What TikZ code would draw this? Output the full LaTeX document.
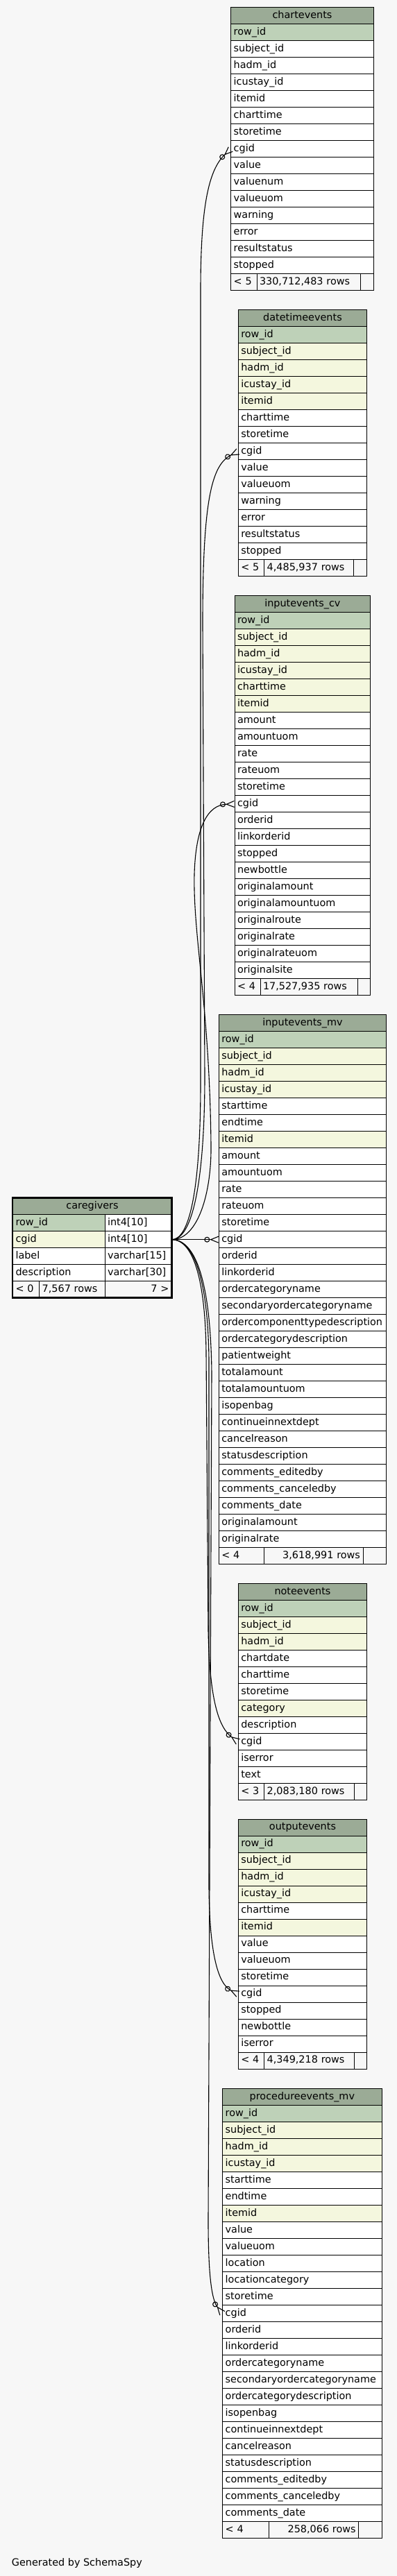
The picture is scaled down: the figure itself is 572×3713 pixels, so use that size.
\documentclass[tikz,border=0pt]{standalone}
\usepackage{fontspec}
\setmainfont{DejaVu Sans}
\usetikzlibrary{arrows.meta}

\definecolor{bgc}{HTML}{F7F7F7}
\definecolor{hdc}{HTML}{9BAB96}
\definecolor{rowp}{HTML}{BED1B8}
\definecolor{rowi}{HTML}{F4F7DE}
\definecolor{rown}{HTML}{FFFFFF}

\begin{document}
\begin{tikzpicture}[x=1pt,y=-1pt,font=\fontsize{14.4}{16}\selectfont]

\tikzstyle{hd} = [draw=black, fill=hdc, anchor=north west, minimum height=24pt, inner sep=0pt, outer sep=0pt, text height=10.5pt, text depth=3.5pt, line width=1pt]
\tikzstyle{cl} = [draw=black, anchor=north west, minimum height=24pt, inner xsep=4pt, inner ysep=0pt, outer sep=0pt, text height=10.5pt, text depth=3.5pt, align=left, line width=1pt]
\tikzstyle{ft} = [cl, fill=bgc]
\tikzstyle{fk} = [line width=1.1pt, -{Circle[open,length=8pt,width=8pt] Straight Barb[reversed,length=11pt,width=9pt]}]

\fill [bgc] (0,0) rectangle (572,3713);

% chartevents
\node (ce) [hd, minimum width=205.6pt] at (332.7,10.7) {chartevents};
\foreach \k/\c [count=\i] in {p/row\_id, n/subject\_id, n/hadm\_id, n/icustay\_id, n/itemid, n/charttime, n/storetime, n/cgid, n/value, n/valuenum, n/valueuom, n/warning, n/error, n/resultstatus, n/stopped}
  \node (ce-\i) [cl, fill=row\k, text width=197.6pt] at (332.7,{10.7+24*\i}) {\c};
\node (ce-f1) [ft, text width=29.3pt] at (332.7,394.7) {< 5};
\node (ce-f2) [ft, text width=141pt] at (370,394.7) {330,712,483 rows};
\node (ce-f3) [ft, text width=11.3pt] at (519,394.7) {};

% datetimeevents
\node (de) [hd, minimum width=185.4pt] at (343.3,446.7) {datetimeevents};
\foreach \k/\c [count=\i] in {p/row\_id, i/subject\_id, i/hadm\_id, i/icustay\_id, i/itemid, n/charttime, n/storetime, n/cgid, n/value, n/valueuom, n/warning, n/error, n/resultstatus, n/stopped}
  \node (de-\i) [cl, fill=row\k, text width=177.4pt] at (343.3,{446.7+24*\i}) {\c};
\node (de-f1) [ft, text width=29.4pt] at (343.3,806.7) {< 5};
\node (de-f2) [ft, text width=120.6pt] at (380.7,806.7) {4,485,937 rows};
\node (de-f3) [ft, text width=11.4pt] at (509.3,806.7) {};

% inputevents_cv
\node (ic) [hd, minimum width=195.7pt] at (338,858.9) {inputevents\_cv};
\foreach \k/\c [count=\i] in {p/row\_id, i/subject\_id, i/hadm\_id, i/icustay\_id, i/charttime, i/itemid, n/amount, n/amountuom, n/rate, n/rateuom, n/storetime, n/cgid, n/orderid, n/linkorderid, n/stopped, n/newbottle, n/originalamount, n/originalamountuom, n/originalroute, n/originalrate, n/originalrateuom, n/originalsite}
  \node (ic-\i) [cl, fill=row\k, text width=187.7pt] at (338,{858.9+24*\i}) {\c};
\node (ic-f1) [ft, text width=29pt] at (338,1410.9) {< 4};
\node (ic-f2) [ft, text width=132pt] at (375,1410.9) {17,527,935 rows};
\node (ic-f3) [ft, text width=10.7pt] at (515,1410.9) {};

% inputevents_mv
\node (im) [hd, minimum width=241.4pt] at (315.3,1462.7) {inputevents\_mv};
\foreach \k/\c [count=\i] in {p/row\_id, i/subject\_id, i/hadm\_id, i/icustay\_id, n/starttime, n/endtime, i/itemid, n/amount, n/amountuom, n/rate, n/rateuom, n/storetime, n/cgid, n/orderid, n/linkorderid, n/ordercategoryname, n/secondaryordercategoryname, n/ordercomponenttypedescription, n/ordercategorydescription, n/patientweight, n/totalamount, n/totalamountuom, n/isopenbag, n/continueinnextdept, n/cancelreason, n/statusdescription, n/comments\_editedby, n/comments\_canceledby, n/comments\_date, n/originalamount, n/originalrate}
  \node (im-\i) [cl, fill=row\k, text width=233.4pt] at (315.3,{1462.7+24*\i}) {\c};
\node (im-f1) [ft, text width=57.4pt] at (315.3,2230.7) {< 4};
\node (im-f2) [ft, text width=134.3pt, align=right] at (380.7,2230.7) {3,618,991 rows};
\node (im-f3) [ft, text width=25.7pt] at (523,2230.7) {};

% caregivers
\node (cg) [hd, minimum width=229pt] at (18.5,1726.7) {caregivers};
\foreach \k/\c/\t [count=\i] in {p/row\_id/int4[10], i/cgid/int4[10], n/label/varchar[15], n/description/varchar[30]} {
  \node (cg-\i) [cl, fill=row\k, text width=124.5pt] at (18.5,{1726.7+24*\i}) {\c};
  \node (cg-\i-t) [cl, fill=white, text width=88.5pt] at (151,{1726.7+24*\i}) {\t};
}
\node (cg-f1) [ft, text width=30.2pt] at (18.5,1846.7) {< 0};
\node (cg-f2) [ft, text width=86.3pt] at (56.7,1846.7) {7,567 rows};
\node (cg-f3) [ft, text width=88.5pt, align=right] at (151,1846.7) {7 >};
\draw [line width=2.7pt] (18,1726.2) rectangle (247.4,1870.6);

% noteevents
\node (ne) [hd, minimum width=185.4pt] at (343.3,2282.7) {noteevents};
\foreach \k/\c [count=\i] in {p/row\_id, i/subject\_id, i/hadm\_id, n/chartdate, n/charttime, n/storetime, i/category, n/description, n/cgid, n/iserror, n/text}
  \node (ne-\i) [cl, fill=row\k, text width=177.4pt] at (343.3,{2282.7+24*\i}) {\c};
\node (ne-f1) [ft, text width=29.4pt] at (343.3,2570.7) {< 3};
\node (ne-f2) [ft, text width=121.3pt] at (380.7,2570.7) {2,083,180 rows};
\node (ne-f3) [ft, text width=10.7pt] at (510,2570.7) {};

% outputevents
\node (oe) [hd, minimum width=185.4pt] at (343.3,2622.3) {outputevents};
\foreach \k/\c [count=\i] in {p/row\_id, i/subject\_id, i/hadm\_id, i/icustay\_id, n/charttime, i/itemid, n/value, n/valueuom, n/storetime, n/cgid, n/stopped, n/newbottle, n/iserror}
  \node (oe-\i) [cl, fill=row\k, text width=177.4pt] at (343.3,{2622.3+24*\i}) {\c};
\node (oe-f1) [ft, text width=29.4pt] at (343.3,2958.3) {< 4};
\node (oe-f2) [ft, text width=121.3pt] at (380.7,2958.3) {4,349,218 rows};
\node (oe-f3) [ft, text width=10.7pt] at (510,2958.3) {};

% procedureevents_mv
\node (pe) [hd, minimum width=229.3pt] at (320.7,3010.7) {procedureevents\_mv};
\foreach \k/\c [count=\i] in {p/row\_id, i/subject\_id, i/hadm\_id, i/icustay\_id, n/starttime, n/endtime, i/itemid, n/value, n/valueuom, n/location, n/locationcategory, n/storetime, n/cgid, n/orderid, n/linkorderid, n/ordercategoryname, n/secondaryordercategoryname, n/ordercategorydescription, n/isopenbag, n/continueinnextdept, n/cancelreason, n/statusdescription, n/comments\_editedby, n/comments\_canceledby, n/comments\_date}
  \node (pe-\i) [cl, fill=row\k, text width=221.3pt] at (320.7,{3010.7+24*\i}) {\c};
\node (pe-f1) [ft, text width=58.6pt] at (320.7,3634.7) {< 4};
\node (pe-f2) [ft, text width=121.4pt, align=right] at (387.3,3634.7) {258,066 rows};
\node (pe-f3) [ft, text width=25.3pt] at (516.7,3634.7) {};

% cgid links
\draw [fk] (cg-2-t.east) .. controls (272,1786.7) and (289,1720) .. (289,1560) -- (289,420) .. controls (289,300) and (300,245) .. (ce-8.west);
\draw [fk] (cg-2-t.east) .. controls (278,1786.7) and (295,1700) .. (295,1550) -- (292,900) .. controls (292,720) and (305,670) .. (de-8.west);
\draw [fk] (cg-2-t.east) .. controls (285,1786.7) and (305,1720) .. (304,1650) .. controls (302,1450) and (278,1350) .. (280,1260) .. controls (282,1190) and (300,1160) .. (ic-12.west);
\draw [fk] (cg-2-t.east) -- (im-13.west);
\draw [fk] (cg-2-t.east) .. controls (280,1786.7) and (296,1850) .. (297,1950) -- (300,2350) .. controls (302,2450) and (315,2490) .. (ne-9.west);
\draw [fk] (cg-2-t.east) .. controls (284,1786.7) and (300,1860) .. (301,1960) -- (301,2720) .. controls (302,2820) and (315,2860) .. (oe-10.west);
\draw [fk] (cg-2-t.east) .. controls (288,1786.7) and (304,1870) .. (305,1980) -- (300,3200) .. controls (300,3280) and (305,3315) .. (pe-13.west);

\node (gen) [anchor=base west, inner sep=0pt] at (16.7,3698) {Generated by SchemaSpy};
\end{tikzpicture}
\end{document}
